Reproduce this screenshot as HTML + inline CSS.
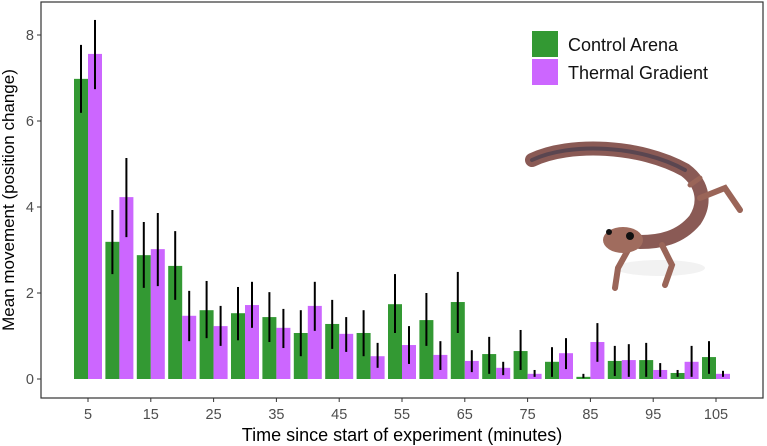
<!DOCTYPE html>
<html><head><meta charset="utf-8">
<style>
html,body{margin:0;padding:0;background:#fff;}
svg{display:block;font-family:"Liberation Sans",Arial,sans-serif;}
</style></head>
<body>
<svg id="chart" width="767" height="446" viewBox="0 0 767 446">
  <rect x="41" y="2" width="722" height="396" fill="#fff" stroke="#333" stroke-width="1.2"/>
  <g id="yaxis"></g>
  <g id="xaxis"></g>
  <g id="bars"></g>
  <g id="errs"></g>
  <text x="14" y="200" transform="rotate(-90 14 200)" text-anchor="middle" font-size="17" fill="#000">Mean movement (position change)</text>
  <text x="402" y="441" text-anchor="middle" font-size="18" fill="#000">Time since start of experiment (minutes)</text>
  <g>
    <rect x="532" y="31" width="26" height="26" fill="#339933"/>
    <text x="568" y="51" font-size="18" fill="#111">Control Arena</text>
    <rect x="532" y="59" width="26" height="26" fill="#cc66ff"/>
    <text x="568" y="79" font-size="18" fill="#111">Thermal Gradient</text>
  </g>
  <g>
    <ellipse cx="660" cy="268" rx="45" ry="8" fill="#f2f2f2"/>
    <path d="M532,160 C570,142 640,145 685,170 C705,185 705,205 695,220 C680,238 660,242 640,242" fill="none" stroke="#8a5a55" stroke-width="14" stroke-linecap="round"/>
    <path d="M532,160 C570,142 640,145 685,170" fill="none" stroke="#5a4650" stroke-width="4" stroke-linecap="round"/>
    <path d="M700,198 L725,188 L740,210" fill="none" stroke="#9a6558" stroke-width="6" stroke-linecap="round"/>
    <path d="M690,185 L700,178" fill="none" stroke="#9a6558" stroke-width="5" stroke-linecap="round"/>
    <path d="M628,250 L618,268 L615,288" fill="none" stroke="#9a6558" stroke-width="6" stroke-linecap="round"/>
    <path d="M662,245 L672,265 L665,285" fill="none" stroke="#9a6558" stroke-width="6" stroke-linecap="round"/>
    <ellipse cx="623" cy="240" rx="20" ry="13" fill="#a06c5e"/>
    <circle cx="630" cy="236" r="4" fill="#111"/>
    <circle cx="609" cy="232" r="3" fill="#111"/>
  </g>
</svg>
<script>
const categories=[5,10,15,20,25,30,35,40,45,50,55,60,65,70,75,80,85,90,95,100,105];
const controlMean=[6.98,3.19,2.88,2.63,1.60,1.53,1.44,1.07,1.28,1.07,1.74,1.37,1.79,0.58,0.65,0.40,0.05,0.42,0.44,0.14,0.51];
const controlHi=[7.77,3.93,3.65,3.44,2.28,2.14,2.02,1.60,1.84,1.60,2.44,2.00,2.49,0.98,1.14,0.74,0.12,0.77,0.84,0.21,0.88];
const controlLo=[6.19,2.44,2.12,1.84,0.95,0.90,0.86,0.53,0.70,0.53,1.07,0.77,1.07,0.12,0.21,0.05,0.02,0.07,0.05,0.05,0.12];
const thermalMean=[7.56,4.23,3.02,1.47,1.23,1.72,1.19,1.70,1.05,0.53,0.79,0.56,0.42,0.26,0.12,0.60,0.86,0.44,0.21,0.40,0.12];
const thermalHi=[8.35,5.14,3.86,2.05,1.70,2.26,1.63,2.26,1.44,0.84,1.23,0.88,0.67,0.40,0.21,0.95,1.30,0.81,0.37,0.77,0.19];
const thermalLo=[6.74,3.30,2.16,0.88,0.77,1.19,0.72,1.12,0.63,0.26,0.35,0.21,0.16,0.09,0.05,0.23,0.40,0.05,0.05,0.05,0.05];
const yTicks=[0,2,4,6,8];
const xTickLabels=[5,15,25,35,45,55,65,75,85,95,105];

const NS="http://www.w3.org/2000/svg";
const y=v=>379-v*43;
const x=c=>88+(c-5)/5*31.4;
const bw=14;
function mk(tag,attrs,parent){const e=document.createElementNS(NS,tag);for(const k in attrs)e.setAttribute(k,attrs[k]);parent.appendChild(e);return e;}
const ya=document.getElementById('yaxis'),xa=document.getElementById('xaxis'),bars=document.getElementById('bars'),errs=document.getElementById('errs');
yTicks.forEach(t=>{
  const l=mk('line',{x1:37,x2:41,y1:y(t),y2:y(t),stroke:'#333'},ya);
  
  
  const tx=mk('text',{x:34,y:y(t)+5,'text-anchor':'end','font-size':14.5,fill:'#4d4d4d'},ya);
  tx.textContent=t;
  
  
});
xTickLabels.forEach(t=>{
  const l=mk('line',{x1:x(t),x2:x(t),y1:398,y2:402,stroke:'#333'},xa);
  
  
  const tx=mk('text',{x:x(t),y:419,'text-anchor':'middle','font-size':14.5,fill:'#4d4d4d'},xa);
  tx.textContent=t;
  
  
});
categories.forEach((c,i)=>{
  const cx=x(c);
  const g=mk('rect',{x:cx-bw,y:y(controlMean[i]),width:bw,height:y(0)-y(controlMean[i]),fill:'#339933'},bars);
  
  
  const p=mk('rect',{x:cx,y:y(thermalMean[i]),width:bw,height:y(0)-y(thermalMean[i]),fill:'#cc66ff'},bars);
  
  
  const e1=mk('line',{x1:cx-bw/2,x2:cx-bw/2,y1:y(controlHi[i]),y2:y(controlLo[i]),stroke:'#000','stroke-width':2},errs);
  
  
  const e2=mk('line',{x1:cx+bw/2,x2:cx+bw/2,y1:y(thermalHi[i]),y2:y(thermalLo[i]),stroke:'#000','stroke-width':2},errs);
  
  
});
</script>
</body></html>
